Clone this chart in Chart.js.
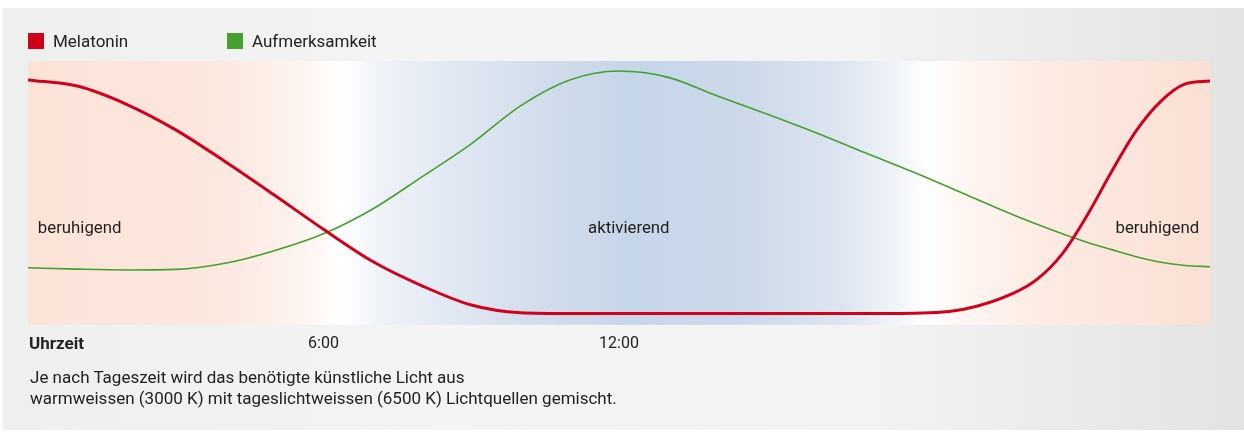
<!DOCTYPE html>
<html lang="de">
<head>
<meta charset="utf-8">
<title>Melatonin und Aufmerksamkeit</title>
<script src="https://cdn.jsdelivr.net/npm/chart.js@4/dist/chart.umd.min.js"></script>
<style>
    html, body {
        margin: 0;
        padding: 0;
        background: #ffffff;
    }
    .panel {
        position: absolute;
        left: 3px;
        top: 8px;
        width: 1241px;
        height: 422px;
        background: linear-gradient(to right, #eeefef 0%, #f4f4f4 35%, #f3f3f3 70%, #e3e3e3 100%);
        font-family: Roboto, "Noto Sans", sans-serif;
        color: #222;
    }
    .chart-box {
        position: absolute;
        left: -3px;
        top: -8px;
        width: 1244px;
        height: 372px;
    }
    .legend {
        position: absolute;
        top: 25px;
        left: 25px;
        font-size: 17px;
    }
    .legend span.item {
        position: absolute;
        white-space: nowrap;
        line-height: 16px;
    }
    .legend i {
        display: inline-block;
        width: 16px;
        height: 16px;
        vertical-align: top;
        margin-right: 9px;
    }
    .axis-title {
        position: absolute;
        left: 26px;
        top: 325px;
        font-size: 17px;
        font-weight: bold;
    }
    .caption {
        position: absolute;
        left: 27px;
        top: 359px;
        font-size: 17px;
        line-height: 21px;
    }
</style>
</head>
<body>
<div class="panel">
    <div class="chart-box"><canvas id="rhythm-chart"></canvas></div>
    <div class="legend" id="legend"></div>
    <div class="axis-title">Uhrzeit</div>
    <div class="caption">
        Je nach Tageszeit wird das benötigte künstliche Licht aus<br>
        warmweissen (3000 K) mit tageslichtweissen (6500 K) Lichtquellen gemischt.
    </div>
</div>
<script>
// time of day in hours, 0 = midnight (half hours in the evening where melatonin climbs fast)
const hours = [0, 1, 2, 3, 4, 5, 6, 7, 8, 9, 10, 11, 12, 13, 14, 15, 16, 17, 18, 19, 20, 20.5, 21, 21.5, 22, 22.5, 23, 23.5, 24];
const melatonin = [92.8, 90.5, 83.6, 73.9, 61.9, 49.2, 36.2, 24.0, 14.8, 7.5, 4.6, 4.3, 4.3, 4.3, 4.3, 4.3, 4.3, 4.3, 4.4, 5.9, 11.9, 17.4, 26.9, 41.3, 58.0, 73.5, 84.7, 91.3, 92.4];
const aufmerksamkeit = [21.6, 21.1, 20.8, 21.0, 23.3, 28.1, 34.5, 43.9, 56.1, 68.6, 83.0, 92.8, 96.2, 93.8, 86.7, 79.9, 72.8, 65.2, 57.7, 49.7, 41.7, 38.0, 34.5, 31.3, 28.5, 25.8, 23.7, 22.5, 22.0];
const tickLabels = { 6: '6:00', 12: '12:00' };

// phase labels inside the plot: [text, hour, level, align]
const phaseLabels = [
    ['beruhigend', 0.2, 36.2, 'left'],
    ['aktivierend', 12.2, 36.2, 'center'],
    ['beruhigend', 23.78, 36.2, 'right']
];

const seriesColors = ['#d0021b', '#46a02e'];

document.addEventListener('DOMContentLoaded', () => {
    // warm light at night, cool daylight around noon
    const lightBackground = {
        id: 'lightBackground',
        beforeDraw(chart) {
            const { ctx, chartArea: a } = chart;
            const g = ctx.createLinearGradient(a.left, 0, a.right, 0);
            g.addColorStop(0, '#fce3d8');
            g.addColorStop(0.15, '#fce7de');
            g.addColorStop(0.21, '#fdefe9');
            g.addColorStop(0.245, '#fef8f5');
            g.addColorStop(0.265, '#ffffff');
            g.addColorStop(0.30, '#eef2f8');
            g.addColorStop(0.36, '#e0e8f2');
            g.addColorStop(0.45, '#cfdbeb');
            g.addColorStop(0.51, '#c6d6e9');
            g.addColorStop(0.60, '#cbd8ea');
            g.addColorStop(0.69, '#dde5f0');
            g.addColorStop(0.74, '#f3f6fa');
            g.addColorStop(0.76, '#ffffff');
            g.addColorStop(0.79, '#fef6f2');
            g.addColorStop(0.86, '#fdebe3');
            g.addColorStop(1, '#fbe0d4');
            ctx.save();
            ctx.fillStyle = g;
            ctx.fillRect(a.left, a.top, a.right - a.left, a.bottom - a.top);
            ctx.restore();
        }
    };

    const phaseText = {
        id: 'phaseText',
        beforeDatasetsDraw(chart) {
            const { ctx, scales: { x, y } } = chart;
            ctx.save();
            ctx.font = '16.8px Roboto, "Noto Sans", sans-serif';
            ctx.fillStyle = '#222';
            ctx.textBaseline = 'middle';
            phaseLabels.forEach(([text, h, v, align]) => {
                ctx.textAlign = align;
                ctx.fillText(text, x.getPixelForValue(h), y.getPixelForValue(v));
            });
            ctx.restore();
        }
    };

    function renderLegend(labels) {
        const legend = document.getElementById('legend');
        const offsets = [0, 199];
        labels.forEach((label, i) => {
            const span = document.createElement('span');
            span.className = 'item';
            span.style.left = offsets[i] + 'px';
            const box = document.createElement('i');
            box.style.background = seriesColors[i];
            span.appendChild(box);
            span.appendChild(document.createTextNode(label));
            legend.appendChild(span);
        });
    }

    const ctx = document.getElementById('rhythm-chart');
    new Chart(ctx, {
        type: 'line',
        data: {
            datasets: [{
                label: 'Melatonin',
                data: hours.map((h, i) => ({ x: h, y: melatonin[i] })),
                borderColor: seriesColors[0],
                borderWidth: 3,
                pointRadius: 0,
                cubicInterpolationMode: 'monotone'
            }, {
                label: 'Aufmerksamkeit',
                data: hours.map((h, i) => ({ x: h, y: aufmerksamkeit[i] })),
                borderColor: seriesColors[1],
                borderWidth: 1.6,
                pointRadius: 0,
                cubicInterpolationMode: 'monotone'
            }]
        },
        options: {
            responsive: true,
            maintainAspectRatio: false,
            animation: false,
            layout: {
                padding: { left: 28, right: 34, top: 61, bottom: 8 }
            },
            plugins: {
                legend: { display: false },
                tooltip: { enabled: false }
            },
            scales: {
                x: {
                    type: 'linear',
                    min: 0,
                    max: 24,
                    grid: { display: false, drawTicks: false },
                    border: { display: false },
                    ticks: {
                        stepSize: 6,
                        autoSkip: false,
                        maxRotation: 0,
                        padding: 10,
                        color: '#222',
                        font: { family: 'Roboto', size: 16 },
                        callback: (value) => tickLabels[value] || ''
                    }
                },
                y: {
                    display: false,
                    min: 0,
                    max: 100
                }
            }
        },
        plugins: [lightBackground, phaseText]
    });

    renderLegend(['Melatonin', 'Aufmerksamkeit']);
});
</script>
</body>
</html>
